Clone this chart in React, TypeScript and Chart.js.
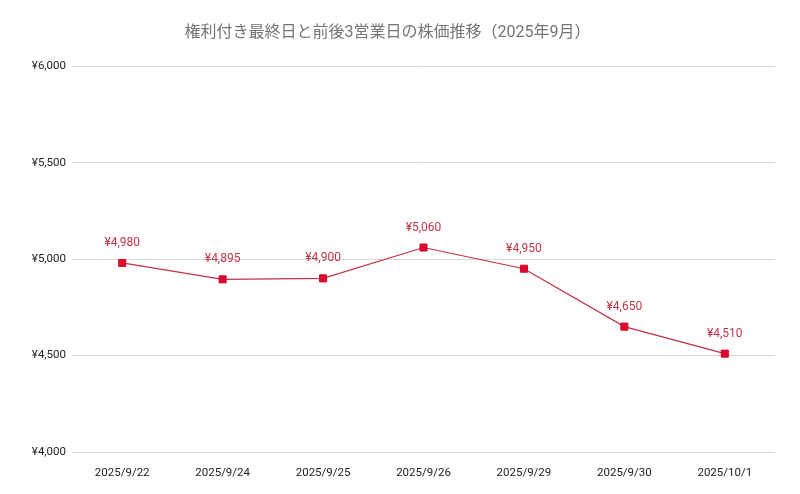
import { useEffect, useRef } from 'react';
import { Chart, ChartConfiguration, Plugin, registerables } from 'chart.js';

Chart.register(...registerables);

// data
const dates = ['2025/9/22', '2025/9/24', '2025/9/25', '2025/9/26', '2025/9/29', '2025/9/30', '2025/10/1'];
const prices = [4980, 4895, 4900, 5060, 4950, 4650, 4510];
const yTicks = [4000, 4500, 5000, 5500, 6000];

const TITLE = '権利付き最終日と前後3営業日の株価推移（2025年9月）';
const FONT = 'Roboto, "Noto Sans CJK JP", sans-serif';
const LINE = '#c2304a';
const MARK = '#e0062c';

const yen = (v: number) => '¥' + v.toLocaleString('en-US');

// draws the price above each marker
const valueLabels: Plugin<'line'> = {
  id: 'valueLabels',
  afterDatasetsDraw(chart) {
    const ctx = chart.ctx;
    const meta = chart.getDatasetMeta(0);
    ctx.save();
    ctx.font = `12px ${FONT}`;
    ctx.fillStyle = '#c0344a';
    ctx.textAlign = 'center';
    ctx.textBaseline = 'middle';
    meta.data.forEach((pt, i) => {
      ctx.fillText(yen(prices[i]), pt.x, pt.y - 20);
    });
    ctx.restore();
  },
};

export default function App() {
  const canvasRef = useRef<HTMLCanvasElement>(null);
  const chartRef = useRef<Chart | null>(null);

  useEffect(() => {
    document.body.style.margin = '0';
    if (!canvasRef.current) return;
    if (chartRef.current) chartRef.current.destroy();

    const config: ChartConfiguration<'line'> = {
      type: 'line',
      data: {
        labels: dates,
        datasets: [{
          data: prices,
          borderColor: LINE,
          borderWidth: 1.2,
          backgroundColor: MARK,
          pointStyle: 'rect',
          pointRadius: 5,
          pointBorderWidth: 1,
          pointBorderColor: '#c8102e',
          pointBackgroundColor: MARK,
          tension: 0,
        }],
      },
      options: {
        responsive: false,
        animation: false,
        layout: { padding: { left: 0, right: 25, top: 0, bottom: 0 } },
        plugins: {
          legend: { display: false },
          tooltip: { enabled: false },
          title: {
            display: true,
            text: TITLE,
            color: '#757575',
            font: { family: FONT, size: 16, weight: 'normal' },
            padding: { top: 23, bottom: 24 },
          },
        },
        scales: {
          x: {
            offset: true,
            grid: { display: false },
            border: { display: false },
            ticks: {
              color: '#222',
              font: { family: FONT, size: 11.5 },
              padding: 6,
              maxRotation: 0,
            },
            afterFit: (s) => { s.height = 42; },
          },
          y: {
            min: 4000,
            max: 6000,
            afterBuildTicks: (s) => { s.ticks = yTicks.map((v) => ({ value: v })); },
            grid: { color: '#d9d9d9', drawTicks: false },
            border: { display: false },
            ticks: {
              color: '#222',
              font: { family: FONT, size: 11.5 },
              padding: 6,
              callback: (v) => yen(Number(v)),
            },
            afterFit: (s) => { s.width = 72; },
          },
        },
      },
      plugins: [valueLabels],
    };

    chartRef.current = new Chart(canvasRef.current, config);
    return () => {
      chartRef.current?.destroy();
      chartRef.current = null;
    };
  }, []);

  return (
    <div style={{ width: 800, height: 494, background: '#fff' }}>
      <canvas ref={canvasRef} width={800} height={494} />
    </div>
  );
}
